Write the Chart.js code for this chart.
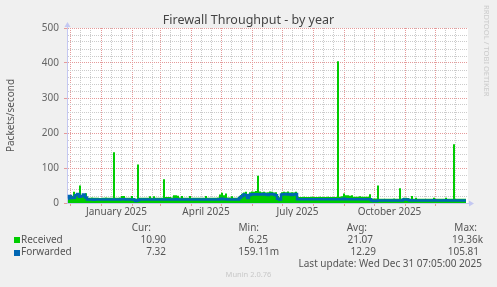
<!DOCTYPE html>
<html>
<head>
<meta charset="utf-8">
<title>Firewall Throughput - by year</title>
<script src="https://cdn.jsdelivr.net/npm/chart.js@4.4.1/dist/chart.umd.min.js"></script>
<style>
  html, body { margin: 0; padding: 0; background: #f0f0f0; }
  #wrap { position: relative; width: 497px; height: 287px; overflow: hidden;
          font-family: "Noto Sans", sans-serif; color: #555; }
  #wrap canvas { position: absolute; left: 0; top: 0; }
  .t { position: absolute; white-space: nowrap; font-size: 10px; line-height: 12px; }
  .title { left: 0; width: 497px; top: 12px; text-align: center; font-size: 12.5px; line-height: 15px; color: #444; }
  .brand { left: 482px; top: 5px; font-size: 7.6px; line-height: 9px; color: #ccc; writing-mode: vertical-rl; }
  .footer { left: 0; width: 497px; top: 270px; text-align: center; font-size: 7.5px; line-height: 9px; color: #c8c8c8; }
  .swatch { position: absolute; width: 6px; height: 6px; }
</style>
</head>
<body>
<div id="wrap">
  <canvas id="chart" width="497" height="287"></canvas>
  <div class="t title">Firewall Throughput - by year</div>
  <div class="t brand">RRDTOOL / TOBI OETIKER</div>
  <div class="t footer">Munin 2.0.76</div>
</div>
<script>
// --- data (packets/second, one value per 2-day bucket) ---
const startDay = Date.UTC(2024, 10, 28); // left edge of the plot
const bucketDays = 2;
const spanDays = 400;

const received = [
  18, 20, 20, 32, 24, 25, 50, 22, 26, 28,
  15, 15, 16, 15, 15, 15, 14, 15, 15, 16,
  15, 15, 15, 145, 15, 15, 16, 20, 20, 15,
  15, 15, 20, 14, 12, 110, 15, 15, 15, 15,
  15, 19, 15, 19, 15, 15, 15, 15, 68, 17,
  17, 17, 16, 22, 22, 21, 16, 20, 15, 15,
  15, 20, 15, 15, 15, 15, 15, 15, 15, 20,
  15, 15, 15, 15, 15, 16, 24, 29, 22, 27,
  16, 16, 19, 15, 15, 15, 20, 26, 30, 32,
  23, 31, 33, 32, 34, 78, 33, 31, 32, 30,
  31, 33, 32, 30, 31, 20, 16, 31, 32, 31,
  33, 30, 31, 30, 32, 18, 17, 17, 18, 17,
  17, 17, 18, 17, 17, 17, 18, 17, 17, 17,
  18, 17, 17, 17, 17, 405, 18, 19, 27, 22,
  22, 21, 22, 18, 18, 18, 19, 18, 18, 18,
  18, 25, 13, 13, 13, 50, 12, 12, 12, 12,
  12, 12, 12, 13, 12, 12, 42, 12, 15, 15,
  14, 12, 20, 12, 15, 12, 12, 12, 12, 12,
  12, 12, 12, 15, 12, 12, 12, 12, 12, 15,
  12, 12, 12, 168, 12, 12, 12, 12, 12, 12,
];

const forwarded = [
  13, 20, 14, 15, 22, 26, 18, 20, 24, 16,
  10, 10, 10, 9, 10, 10, 10, 10, 10, 10,
  10, 10, 10, 10, 10, 10, 10, 11, 11, 10,
  10, 10, 10, 9, 6, 8, 10, 10, 10, 10,
  10, 10, 10, 10, 10, 10, 10, 10, 10, 10,
  10, 10, 10, 10, 11, 10, 10, 10, 10, 10,
  10, 10, 10, 10, 10, 10, 10, 10, 10, 10,
  10, 10, 10, 10, 10, 10, 11, 12, 11, 11,
  10, 10, 10, 10, 10, 10, 14, 19, 24, 22,
  14, 23, 25, 24, 25, 24, 25, 24, 26, 24,
  23, 25, 26, 24, 22, 12, 10, 24, 25, 26,
  24, 25, 23, 24, 26, 11, 11, 11, 11, 11,
  11, 11, 11, 11, 11, 11, 11, 11, 11, 11,
  11, 11, 11, 11, 11, 11, 11, 11, 12, 11,
  11, 11, 11, 11, 11, 11, 11, 11, 11, 11,
  11, 11, 7, 6, 6, 7, 7, 7, 7, 7,
  7, 7, 7, 7, 7, 7, 7, 7, 10, 10,
  9, 7, 8, 7, 7, 7, 7, 7, 7, 7,
  7, 7, 7, 8, 7, 7, 7, 7, 7, 8,
  7, 7, 7, 7, 7, 7, 7, 7, 7, 7,
];

const yMax = 500;
const yMajorStep = 100;
const yMinorStep = 20;

const monthNames = ['January', 'February', 'March', 'April', 'May', 'June',
  'July', 'August', 'September', 'October', 'November', 'December'];
const labelMonths = [0, 3, 6, 9];

const seriesNames = ['Received', 'Forwarded'];
const legendHeads = ['Cur:', 'Min:', 'Avg:', 'Max:'];
const receivedStats = ['10.90', '6.25', '21.07', '19.36k'];
const forwardedStats = ['7.32', '159.11m', '12.29', '105.81'];
const lastUpdate = 'Last update: Wed Dec 31 07:05:00 2025';

// --- look ---
const colors = { received: '#00cc00', forwarded: '#0066b3', major: '#e59a9a', minor: '#cbcbcb', axis: '#c4c8f2' };
const headRight = [151, 259, 367, 477];
const statRight = [[166, 268, 373, 483], [166, 279, 376, 479]];
const rowTop = [232.9, 245.3];

Chart.defaults.font.family = '"Noto Sans", sans-serif';

const dayOf = (y, m, d) => (Date.UTC(y, m, d) - startDay) / 86400000;

function xTicks() {
  const ticks = [];
  for (let k = 0; k < 13; k++) {
    const d = new Date(Date.UTC(2024, 11 + k, 1));
    const y = d.getUTCFullYear(), m = d.getUTCMonth();
    const start = dayOf(y, m, 1);
    ticks.push({ value: start, kind: 'major' });
    ticks.push({ value: dayOf(y, m, 11), kind: 'minor' });
    ticks.push({ value: dayOf(y, m, 21), kind: 'minor' });
    if (labelMonths.includes(m)) {
      const mid = (start + dayOf(y, m + 1, 1)) / 2;
      ticks.push({ value: mid, kind: 'label', text: `${monthNames[m]} ${y}` });
    }
  }
  return ticks.filter((t) => t.value > 0 && t.value < spanDays).sort((a, b) => a.value - b.value);
}

function yTicks() {
  const ticks = [];
  for (let v = 0; v <= yMax; v += yMinorStep) ticks.push({ value: v, kind: v % yMajorStep === 0 ? 'major' : 'minor' });
  return ticks;
}

const gridColor = (c) => (c.tick && c.tick.kind === 'major' ? colors.major : c.tick && c.tick.kind === 'minor' ? colors.minor : 'rgba(0,0,0,0)');
const tickMarkColor = (c) => (c.tick && c.tick.kind === 'major' ? colors.major : 'rgba(0,0,0,0)');

const toPoints = (values) => values.map((v, i) => ({ x: i * bucketDays + bucketDays / 2, y: v }));

// white plot background and the rrdtool axis arrows
const plotFrame = {
  id: 'plotFrame',
  beforeDraw(chart) {
    const { ctx, chartArea: a } = chart;
    ctx.save();
    ctx.fillStyle = '#ffffff';
    ctx.fillRect(a.left, a.top, a.right - a.left + 1, a.bottom - a.top);
    ctx.restore();
  },
  afterDraw(chart) {
    const { ctx, chartArea: a } = chart;
    ctx.save();
    ctx.strokeStyle = colors.axis;
    ctx.fillStyle = colors.axis;
    ctx.lineWidth = 1;
    ctx.beginPath();
    ctx.moveTo(a.right, a.bottom + 0.5);
    ctx.lineTo(a.right + 3, a.bottom + 0.5);
    ctx.moveTo(a.left + 0.5, a.top);
    ctx.lineTo(a.left + 0.5, a.top - 2);
    ctx.stroke();
    ctx.beginPath();
    ctx.moveTo(a.right + 2, a.bottom - 2.5);
    ctx.lineTo(a.right + 7, a.bottom + 0.5);
    ctx.lineTo(a.right + 2, a.bottom + 3.5);
    ctx.closePath();
    ctx.fill();
    ctx.beginPath();
    ctx.moveTo(a.left - 2.5, a.top - 1);
    ctx.lineTo(a.left + 0.5, a.top - 6);
    ctx.lineTo(a.left + 3.5, a.top - 1);
    ctx.closePath();
    ctx.fill();
    ctx.restore();
  },
};

new Chart(document.getElementById('chart'), {
  type: 'line',
  data: {
    datasets: [
      {
        label: seriesNames[0],
        data: toPoints(received),
        stepped: 'middle',
        fill: 'origin',
        backgroundColor: colors.received,
        borderColor: 'rgba(0,0,0,0)',
        borderWidth: 0,
        pointRadius: 0,
        order: 1,
      },
      {
        label: seriesNames[1],
        data: toPoints(forwarded),
        stepped: 'middle',
        fill: false,
        borderColor: colors.forwarded,
        borderWidth: 2.5,
        pointRadius: 0,
        order: 0,
      },
    ],
  },
  options: {
    responsive: false,
    animation: false,
    events: [],
    layout: { padding: { top: 28, right: 30, bottom: 70, left: 0 } },
    plugins: { legend: { display: false }, tooltip: { enabled: false } },
    scales: {
      x: {
        type: 'linear',
        min: 0,
        max: spanDays,
        afterBuildTicks: (scale) => { scale.ticks = xTicks(); },
        afterFit: (scale) => { scale.height = 14; },
        grid: { color: gridColor, tickColor: tickMarkColor, tickLength: 3, lineWidth: 1 },
        border: { color: colors.axis, dash: [1, 1] },
        ticks: {
          autoSkip: false,
          maxRotation: 0,
          padding: 0,
          color: '#555',
          font: { size: 10 },
          callback: (v, i, ticks) => (ticks[i] && ticks[i].kind === 'label' ? ticks[i].text : ''),
        },
      },
      y: {
        min: 0,
        max: yMax,
        afterBuildTicks: (scale) => { scale.ticks = yTicks(); },
        afterFit: (scale) => { scale.width = 67; },
        grid: { color: gridColor, tickColor: tickMarkColor, tickLength: 3, lineWidth: 1 },
        border: { color: colors.axis, dash: [1, 1] },
        title: { display: true, text: 'Packets/second', color: '#555', font: { size: 10 }, padding: { top: 5, bottom: 0 } },
        ticks: {
          autoSkip: false,
          padding: 5,
          color: '#666',
          font: { size: 10 },
          callback: (v) => (v % yMajorStep === 0 ? String(v) : ''),
        },
      },
    },
  },
  plugins: [plotFrame],
});

// legend block under the plot, laid out like the rrdtool text
function buildLegend() {
  const wrap = document.getElementById('wrap');
  const add = (text, style) => {
    const el = document.createElement('div');
    el.className = 't';
    el.textContent = text;
    Object.assign(el.style, style);
    wrap.appendChild(el);
  };
  legendHeads.forEach((h, i) => add(h, { right: (497 - headRight[i]) + 'px', top: '220.6px' }));
  [receivedStats, forwardedStats].forEach((stats, r) => {
    const sw = document.createElement('div');
    sw.className = 'swatch';
    sw.style.left = '14px';
    sw.style.top = (rowTop[r] + 4.3) + 'px';
    sw.style.background = r === 0 ? colors.received : colors.forwarded;
    wrap.appendChild(sw);
    add(seriesNames[r], { left: '21px', top: rowTop[r] + 'px' });
    stats.forEach((s, i) => add(s, { right: (497 - statRight[r][i]) + 'px', top: rowTop[r] + 'px' }));
  });
  add(lastUpdate, { right: (497 - 482) + 'px', top: '256.8px' });
}
buildLegend();
</script>
</body>
</html>
